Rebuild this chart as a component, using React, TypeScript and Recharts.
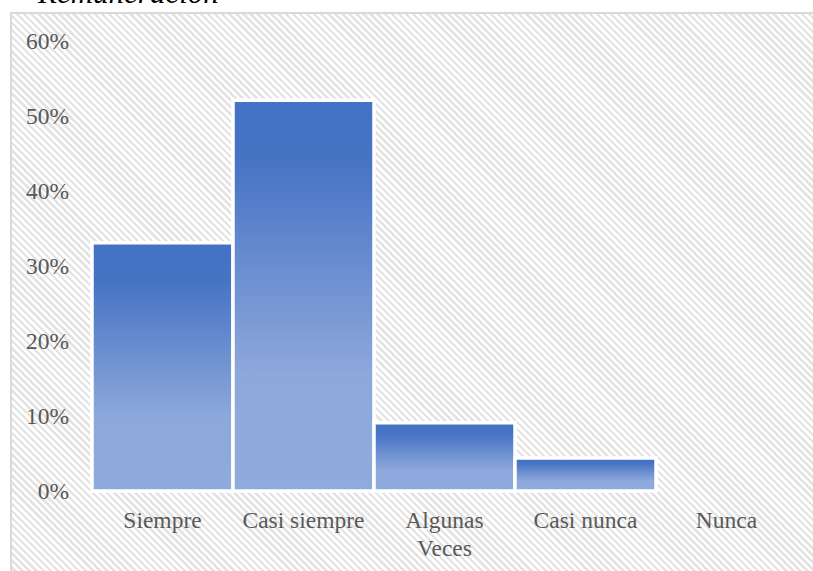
import React from "react";
import { BarChart, Bar, XAxis, YAxis } from "recharts";

// Response categories and their share of answers (%)
const categories = ["Siempre", "Casi siempre", "Algunas Veces", "Casi nunca", "Nunca"];
const shares = [33.1, 52.1, 9.1, 4.4, 0];
const yTicks = [0, 10, 20, 30, 40, 50, 60];
// Category labels as they are broken over lines under the axis
const tickLines: Record<string, string[]> = {
  Siempre: ["Siempre"],
  "Casi siempre": ["Casi siempre"],
  "Algunas Veces": ["Algunas", "Veces"],
  "Casi nunca": ["Casi nunca"],
  Nunca: ["Nunca"],
};

const data = categories.map((name, i) => ({ name, value: shares[i] }));

const FONT = '"Liberation Serif", "Times New Roman", serif';
const TEXT_COLOR = "#595959";
const FONT_SIZE = 23.5;
const LINE_HEIGHT = 28;

const CategoryTick = (props: any) => {
  const { x, y, payload } = props;
  const lines = tickLines[payload.value] ?? [String(payload.value)];
  return (
    <text
      x={x}
      y={y + 16}
      textAnchor="middle"
      fill={TEXT_COLOR}
      fontSize={FONT_SIZE}
      fontFamily={FONT}
    >
      {lines.map((line, i) => (
        <tspan key={i} x={x} dy={i === 0 ? 0 : LINE_HEIGHT}>
          {line}
        </tspan>
      ))}
    </text>
  );
};

export default function App() {
  return (
    <div
      style={{
        position: "absolute",
        left: 0,
        top: 0,
        width: 813,
        height: 571,
        overflow: "hidden",
        background: "#fff",
      }}
    >
      {/* hatched chart area */}
      <div
        style={{
          position: "absolute",
          left: 10,
          top: 12,
          width: 820,
          height: 580,
          borderLeft: "2px solid #d9d9d9",
          borderTop: "2px solid #d9d9d9",
          background:
            "repeating-linear-gradient(45deg, #ffffff 0px, #ffffff 2.5px, #e4e4e4 2.5px, #e4e4e4 5px)",
        }}
      />
      <div
        style={{
          position: "absolute",
          left: 38,
          top: -23,
          fontFamily: FONT,
          fontStyle: "italic",
          fontSize: 31,
          lineHeight: "31px",
          color: "#000",
          whiteSpace: "nowrap",
        }}
      >
        Remuneración
      </div>
      <div style={{ position: "absolute", left: 0, top: 0 }}>
        <BarChart
          width={813}
          height={571}
          data={data}
          margin={{ top: 41, right: 16, bottom: 0, left: 0 }}
          barCategoryGap={0}
        >
          <defs>
            <linearGradient id="barFill" x1="0" y1="0" x2="0" y2="1">
              <stop offset="0%" stopColor="#4472C4" />
              <stop offset="15%" stopColor="#4673C4" />
              <stop offset="70%" stopColor="#8DA8DB" />
              <stop offset="100%" stopColor="#8FAADC" />
            </linearGradient>
          </defs>
          <XAxis
            dataKey="name"
            height={80}
            axisLine={false}
            tickLine={false}
            tickSize={0}
            tickMargin={21}
            interval={0}
            tick={<CategoryTick />}
          />
          <YAxis
            width={92}
            domain={[0, 60]}
            ticks={yTicks}
            axisLine={false}
            tickLine={false}
            tickSize={0}
            tickMargin={23}
            tickFormatter={(v: number) => `${v}%`}
            tick={{ fill: TEXT_COLOR, fontSize: FONT_SIZE, fontFamily: FONT }}
          />
          <Bar
            dataKey="value"
            fill="url(#barFill)"
            stroke="#ffffff"
            strokeWidth={3.5}
            isAnimationActive={false}
          />
        </BarChart>
      </div>
    </div>
  );
}
